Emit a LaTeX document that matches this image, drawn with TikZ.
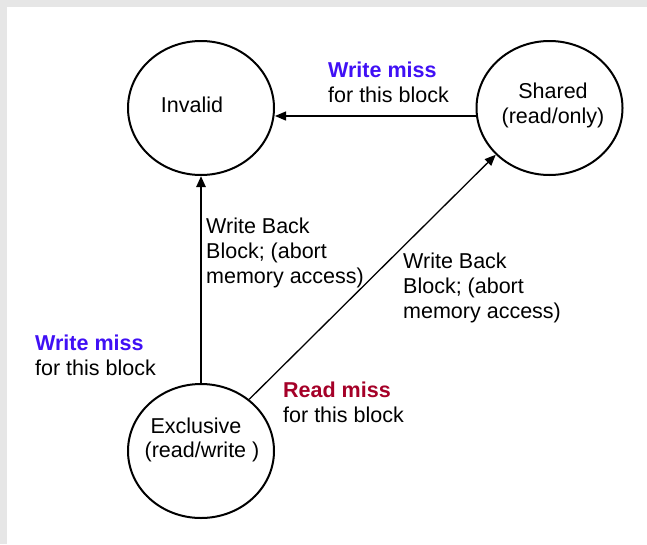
\documentclass[tikz,border=0pt]{standalone}
\usepackage{fontspec}
\setmainfont{Liberation Sans}
\usetikzlibrary{shapes.geometric,arrows.meta}
\definecolor{missblue}{RGB}{64,16,245}
\definecolor{missred}{RGB}{165,0,40}
\definecolor{framegray}{RGB}{230,230,230}
\begin{document}
\begin{tikzpicture}[x=1pt,y=-1pt,
  statering/.style={draw,ellipse,line width=2pt,minimum width=146pt,minimum height=134pt,inner sep=0pt},
  txt/.style={font=\fontsize{21.5}{25}\selectfont,inner sep=0pt},
  lbl/.style={txt,align=left,anchor=west},
  conn/.style={-{Triangle[length=11pt,width=9pt]},line width=1.3pt}]
  % page background with the grey frame strip on top and left
  \fill[framegray] (0,0) rectangle (647,544);
  \fill[white] (7,7) rectangle (647,544);
  \useasboundingbox (0,0) rectangle (647,544);

  % states
  \node[statering] (inv) at (201,108) {};
  \node[statering] (sh)  at (549.5,108) {};
  \node[statering] (ex)  at (201,451) {};

  % state names
  \node[txt] (invt) at (192,105) {Invalid};
  \node[txt,align=center] (sht) at (553,105) {Shared\\(read/only)};
  \node[txt] (ext1) at (196,426) {Exclusive};
  \node[txt] (ext2) at (202,452) {(read/write )};

  % transitions
  \draw[conn] ([yshift=-8pt]sh.west) -- ([yshift=-8pt]inv.east);
  \draw[conn,line width=2.4pt] (ex.north) -- (inv.south);
  \draw[conn] (ex.47) -- (sh.221);

  % transition labels
  \node[lbl] (l1) at (328,82.5) {\textcolor{missblue}{\textbf{Write miss}}\\for this block};
  \node[lbl] (l2) at (206,253) {Write Back\\Block; (abort\\memory access)};
  \node[lbl] (l3) at (403,288) {Write Back\\Block; (abort\\memory access)};
  \node[lbl] (l4) at (35,355) {\textcolor{missblue}{\textbf{Write miss}}\\for this block};
  \node[lbl] (l5) at (283,402) {\textcolor{missred}{\textbf{Read miss}}\\for this block};
\end{tikzpicture}
\end{document}
